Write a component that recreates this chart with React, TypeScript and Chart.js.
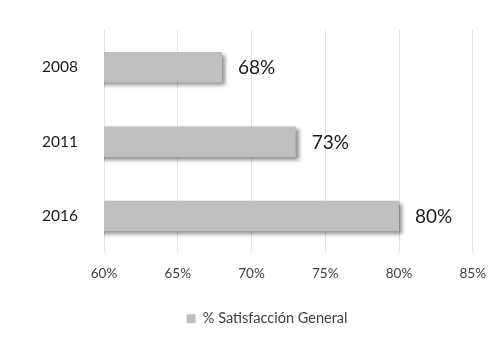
import React, { useEffect, useRef } from "react";
import { Chart, registerables } from "chart.js";

Chart.register(...registerables);

const categories = ["2008", "2011", "2016"];
const satisfaction = [0.68, 0.73, 0.8];
const seriesLabel = "% Satisfacción General";
const xMin = 0.6;
const xMax = 0.85;
const xStep = 0.05;

const FONT = "Lato, 'Open Sans', sans-serif";

const shadowPlugin = {
  id: "barShadow",
  beforeDatasetsDraw(chart: any) {
    const ctx = chart.ctx;
    ctx.save();
    ctx.shadowColor = "rgba(0,0,0,0.45)";
    ctx.shadowOffsetX = 3;
    ctx.shadowOffsetY = 3;
    ctx.shadowBlur = 4;
  },
  afterDatasetsDraw(chart: any) {
    chart.ctx.restore();
  },
};

const legendShiftPlugin = {
  id: "legendShift",
  afterLayout(chart: any) {
    const lg = chart.legend;
    if (lg) {
      lg.left += 29;
      lg.right += 29;
    }
  },
};

const labelPlugin = {
  id: "valueLabels",
  afterDraw(chart: any) {
    const ctx = chart.ctx;
    const meta = chart.getDatasetMeta(0);
    ctx.save();
    ctx.font = `19px ${FONT}`;
    ctx.fillStyle = "#1a1a1a";
    ctx.textBaseline = "middle";
    ctx.textAlign = "left";
    meta.data.forEach((bar: any, i: number) => {
      const v = chart.data.datasets[0].data[i] as number;
      ctx.fillText(Math.round(v * 100) + "%", bar.x + 16, bar.y + 1);
    });
    ctx.restore();
  },
};

export default function App() {
  const ref = useRef<HTMLCanvasElement | null>(null);
  useEffect(() => {
    document.body.style.margin = "0";
    if (!ref.current) return;
    const chart = new Chart(ref.current, {
      type: "bar",
      data: {
        labels: categories,
        datasets: [
          {
            label: seriesLabel,
            data: satisfaction,
            backgroundColor: "#bfbfbf",
            borderWidth: 0,
            barPercentage: 0.41,
            categoryPercentage: 1,
          },
        ],
      },
      options: {
        indexAxis: "y",
        responsive: false,
        animation: false,
        layout: { padding: { top: 30, right: 22, bottom: 8, left: 0 } },
        scales: {
          x: {
            min: xMin,
            max: xMax,
            ticks: {
              stepSize: xStep,
              font: { family: FONT, size: 13.5 },
              color: "#404040",
              padding: 12,
              callback: (v: any) => Math.round(Number(v) * 100) + "%",
            },
            grid: { color: "#e4e4e4", drawTicks: false },
            border: { display: false },
          },
          y: {
            afterFit: (s: any) => {
              s.width = 104;
            },
            ticks: {
              font: { family: FONT, size: 15.5 },
              color: "#1a1a1a",
              padding: 18,
            },
            grid: { display: false },
            border: { display: false },
          },
        },
        plugins: {
          legend: {
            position: "bottom",
            labels: {
              boxWidth: 9,
              boxHeight: 9,
              font: { family: FONT, size: 14.5 },
              color: "#404040",
              padding: 18,
            },
          },
          tooltip: { enabled: false },
        },
      },
      plugins: [shadowPlugin, legendShiftPlugin, labelPlugin],
    });
    return () => chart.destroy();
  }, []);
  return (
    <div style={{ position: "absolute", left: 0, top: 0, width: 498, height: 344, background: "#fff" }}>
      <canvas ref={ref} width={498} height={344} />
    </div>
  );
}
